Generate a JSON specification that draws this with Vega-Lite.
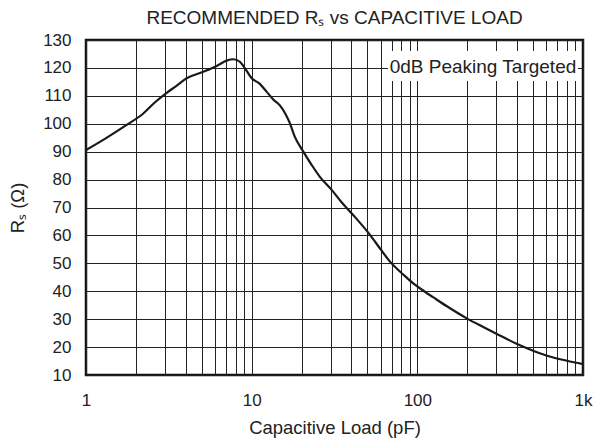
{
  "$schema": "https://vega.github.io/schema/vega-lite/v6.json",
  "width": 497,
  "height": 335,
  "autosize": "none",
  "padding": {"left": 86, "top": 40, "right": 10, "bottom": 68},
  "background": "white",
  "title": {
    "text": "RECOMMENDED Rₛ vs CAPACITIVE LOAD",
    "font": "Liberation Sans",
    "fontSize": 19,
    "fontWeight": "normal",
    "color": "#222222",
    "anchor": "middle",
    "offset": 3
  },
  "config": {
    "view": {"stroke": "#111111", "strokeWidth": 2.5},
    "axis": {
      "labelFont": "Liberation Sans",
      "labelFontSize": 17,
      "labelColor": "#222222",
      "titleFont": "Liberation Sans",
      "titleFontSize": 18.5,
      "titleFontWeight": "normal",
      "titleColor": "#222222",
      "domain": false,
      "ticks": false,
      "grid": true,
      "gridColor": "#222222",
      "gridWidth": 1,
      "gridOpacity": 1
    }
  },
  "encoding": {
    "x": {
      "field": "x", "type": "quantitative",
      "scale": {"type": "log", "domain": [1, 1000], "nice": false},
      "axis": {
        "values": [1,2,3,4,5,6,7,8,9,10,20,30,40,50,60,70,80,90,100,200,300,400,500,600,700,800,900,1000],
        "labelExpr": "datum.value == 1 ? '1' : datum.value == 10 ? '10' : datum.value == 100 ? '100' : datum.value == 1000 ? '1k' : ''",
        "labelPadding": 17,
        "labelFlush": false,
        "labelOverlap": false,
        "title": "Capacitive Load (pF)",
        "titlePadding": 10
      }
    },
    "y": {
      "field": "y", "type": "quantitative",
      "scale": {"domain": [10, 130], "nice": false, "zero": false},
      "axis": {
        "values": [10,20,30,40,50,60,70,80,90,100,110,120,130],
        "labelPadding": 15,
        "labelFlush": false,
        "labelOverlap": false,
        "title": "Rₛ (Ω)",
        "titlePadding": 15
      }
    }
  },
  "layer": [
    {
      "data": {"values": [{"x": 66.5, "x2": 931, "y": 115.3, "y2": 126.1}]},
      "mark": {"type": "rect", "fill": "white"},
      "encoding": {
        "x2": {"field": "x2"},
        "y2": {"field": "y2"}
      }
    },
    {
      "data": {"values": [{"x": 249, "y": 120.3, "label": "0dB Peaking Targeted"}]},
      "mark": {"type": "text", "font": "Liberation Sans", "fontSize": 19, "color": "#222222", "align": "center", "baseline": "middle"},
      "encoding": {
        "text": {"field": "label"}
      }
    },
    {
      "data": {"values": [
        {"x": 1, "y": 90.6},
        {"x": 1.3, "y": 94.6},
        {"x": 1.76, "y": 99.6},
        {"x": 2.2, "y": 103.5},
        {"x": 2.6, "y": 107.6},
        {"x": 3.04, "y": 110.9},
        {"x": 3.5, "y": 113.5},
        {"x": 4.05, "y": 116.3},
        {"x": 5.1, "y": 118.6},
        {"x": 6.15, "y": 120.7},
        {"x": 7.06, "y": 122.6},
        {"x": 7.75, "y": 123.1},
        {"x": 8.5, "y": 122.2},
        {"x": 9.1, "y": 119.9},
        {"x": 10, "y": 116.3},
        {"x": 11.2, "y": 114.3},
        {"x": 12.3, "y": 111.5},
        {"x": 13.5, "y": 108.7},
        {"x": 14.8, "y": 106.6},
        {"x": 16, "y": 103.5},
        {"x": 17, "y": 100.2},
        {"x": 18.2, "y": 95.4},
        {"x": 20.5, "y": 90.0},
        {"x": 23, "y": 85.3},
        {"x": 25.8, "y": 81.0},
        {"x": 30.4, "y": 76.3},
        {"x": 35, "y": 71.8},
        {"x": 41, "y": 67.3},
        {"x": 51.8, "y": 60.2},
        {"x": 59.4, "y": 55.4},
        {"x": 68.4, "y": 50.6},
        {"x": 82.2, "y": 46.0},
        {"x": 94.5, "y": 42.8},
        {"x": 110, "y": 40.0},
        {"x": 125, "y": 37.8},
        {"x": 150, "y": 34.7},
        {"x": 200, "y": 30.2},
        {"x": 250, "y": 27.2},
        {"x": 300, "y": 24.8},
        {"x": 400, "y": 21.1},
        {"x": 500, "y": 18.7},
        {"x": 600, "y": 17.0},
        {"x": 800, "y": 15.1},
        {"x": 1000, "y": 13.9}
      ]},
      "mark": {"type": "line", "interpolate": "monotone", "color": "#1a1a1a", "strokeWidth": 2.2}
    }
  ]
}
